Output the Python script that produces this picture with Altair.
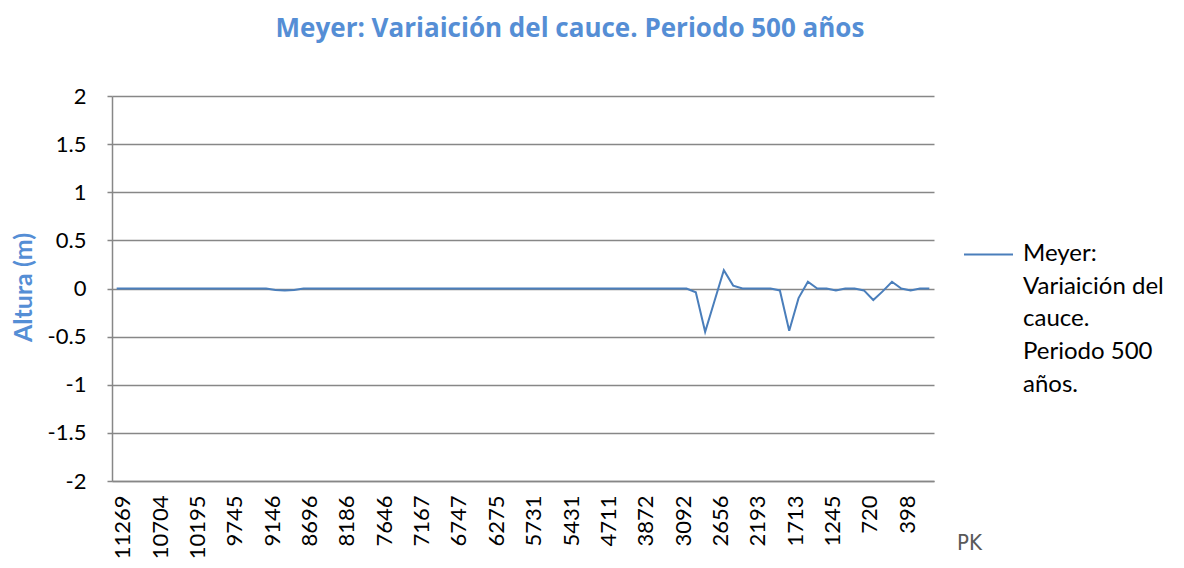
import altair as alt
import pandas as pd

# PK labels shown on the x axis (every 4th section)
pk_labels = ["11269", "10704", "10195", "9745", "9146", "8696", "8186", "7646",
             "7167", "6747", "6275", "5731", "5431", "4711", "3872", "3092",
             "2656", "2193", "1713", "1245", "720", "398"]

# Bed-level change (m) for each of the 88 sections
altura = [
    0, 0, 0, 0, 0, 0, 0, 0, 0, 0,
    0, 0, 0, 0, 0, 0, 0, -0.015, -0.02, -0.015,
    0, 0, 0, 0, 0, 0, 0, 0, 0, 0,
    0, 0, 0, 0, 0, 0, 0, 0, 0, 0,
    0, 0, 0, 0, 0, 0, 0, 0, 0, 0,
    0, 0, 0, 0, 0, 0, 0, 0, 0, 0,
    0, 0, -0.04, -0.45, -0.13, 0.19, 0.03, 0, 0, 0,
    0, -0.02, -0.44, -0.10, 0.07, 0, 0, -0.02, 0, 0,
    -0.02, -0.12, -0.03, 0.07, 0, -0.02, 0, 0,
]

serie = "Meyer: Variaición del cauce. Periodo 500 años."
legend_lines = ["Meyer:", "Variaición del", "cauce.", "Periodo 500", "años."]
y_ticks = [-2, -1.5, -1, -0.5, 0, 0.5, 1, 1.5, 2]

df = pd.DataFrame({"idx": list(range(len(altura))), "altura": altura, "serie": serie})

pk_expr = "[" + ",".join("'" + s + "'" for s in pk_labels) + "][datum.value/4]"

line = alt.Chart(df).mark_line(strokeWidth=2).encode(
    x=alt.X("idx:Q",
            scale=alt.Scale(domain=[-0.5, len(altura) - 0.5], nice=False, zero=False),
            axis=alt.Axis(values=list(range(0, 88, 4)), labelExpr=pk_expr,
                          labelAngle=270, labelAlign="right", labelBaseline="middle",
                          labelFont="Lato", labelFontSize=22, labelColor="#000000",
                          labelPadding=14, labelOffset=6, ticks=False, grid=False,
                          domainColor="#878787", domainWidth=1.5,
                          title="PK",
                          titleFont="'DejaVu Sans Condensed', 'Liberation Sans', sans-serif",
                          titleFontSize=22, titleFontWeight="normal", titleColor="#595959",
                          titleX=857, titleY=61, titleAlign="center",
                          titleBaseline="middle", titleAngle=0)),
    y=alt.Y("altura:Q",
            scale=alt.Scale(domain=[-2, 2], nice=False),
            axis=alt.Axis(values=y_ticks, labelExpr="toString(datum.value)",
                          labelFont="Lato", labelFontSize=22, labelColor="#000000",
                          labelPadding=21, tickSize=5, tickColor="#878787", tickWidth=1.5,
                          grid=True, gridColor="#878787", gridWidth=1.5,
                          domainColor="#878787", domainWidth=1.5,
                          title="Altura (m)", titleFont="Lato", titleFontSize=25,
                          titleFontWeight="bold", titleColor="#558ED5",
                          titleX=-89, titleY=191, titleAngle=270, titleAlign="center",
                          titleBaseline="middle")),
    color=alt.Color("serie:N", scale=alt.Scale(range=["#4A7EBB"]),
                    legend=alt.Legend(title=None, orient="none", legendX=851, legendY=133,
                                      symbolType="stroke", symbolSize=2401,
                                      symbolStrokeWidth=2, labelExpr="''",
                                      labelFontSize=1)),
)

legend_text = alt.Chart(pd.DataFrame({"serie": [serie]})).mark_text(
    align="left", baseline="top", font="Lato", fontSize=24, lineHeight=32.7,
    color="#000000"
).encode(
    text=alt.value(legend_lines),
    x=alt.value(911),
    y=alt.value(146),
)

chart = alt.layer(line, legend_text).properties(
    width=822,
    height=385,
    autosize=alt.AutoSizeParams(type="none"),
    padding={"left": 104, "top": 88, "right": 242, "bottom": 79},
    title=alt.Title("Meyer: Variaición del cauce. Periodo 500 años",
                    font="Open Sans", fontSize=26, fontWeight="bold", color="#558ED5",
                    anchor="middle", dx=47, offset=43),
).configure_view(stroke=None)

chart.save("out.html", embed_options={"renderer": "svg", "actions": False})
